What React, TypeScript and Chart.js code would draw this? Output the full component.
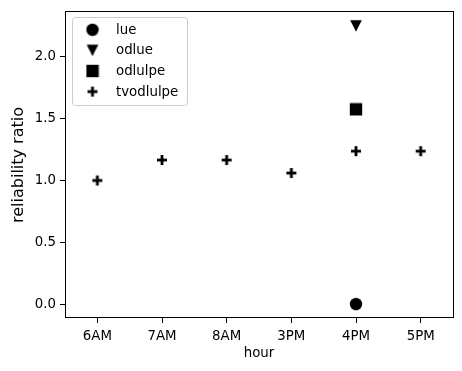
import React, { useEffect, useRef } from "react";
import { Chart, registerables } from "chart.js";

Chart.register(...registerables);

const categories = ["6AM", "7AM", "8AM", "3PM", "4PM", "5PM"];
const lueValues = [null, null, null, null, 0.0, null];
const odlueValues = [null, null, null, null, 2.25, null];
const odlulpeValues = [null, null, null, null, 1.575, null];
const tvodlulpeValues = [1.0, 1.165, 1.165, 1.06, 1.237, 1.237];
const yTicks = [0, 0.5, 1.0, 1.5, 2.0];
const seriesNames = ["lue", "odlue", "odlulpe", "tvodlulpe"];

const FONT = "'DejaVu Sans', sans-serif";

function makeMarker(kind: string): HTMLCanvasElement {
  const c = document.createElement("canvas");
  const s = 14;
  c.width = s;
  c.height = s;
  const ctx = c.getContext("2d")!;
  ctx.fillStyle = "#000";
  if (kind === "circle") {
    ctx.beginPath();
    ctx.arc(7, 7, 6.2, 0, Math.PI * 2);
    ctx.fill();
  } else if (kind === "tri") {
    ctx.beginPath();
    ctx.moveTo(1.2, 1.2);
    ctx.lineTo(12.8, 1.2);
    ctx.lineTo(7, 12.8);
    ctx.closePath();
    ctx.fill();
  } else if (kind === "square") {
    ctx.fillRect(0.8, 0.8, 12.4, 12.4);
  } else {
    ctx.fillRect(2, 5.6, 10, 2.8);
    ctx.fillRect(5.6, 2, 2.8, 10);
  }
  return c;
}

export default function App() {
  const ref = useRef<HTMLCanvasElement>(null);
  useEffect(() => {
    const markers = [makeMarker("circle"), makeMarker("tri"), makeMarker("square"), makeMarker("plus")];
    const values = [lueValues, odlueValues, odlulpeValues, tvodlulpeValues];

    const framePlugin = {
      id: "frameLegend",
      afterDraw(chart: any) {
        const { ctx, chartArea } = chart;
        ctx.save();
        ctx.strokeStyle = "#000";
        ctx.lineWidth = 1;
        ctx.strokeRect(
          Math.round(chartArea.left) + 0.5,
          Math.round(chartArea.top) - 0.5,
          Math.round(chartArea.right - chartArea.left),
          Math.round(chartArea.bottom - chartArea.top)
        );
        // legend
        const bx = 72.5, by = 17.5, bw = 115, bh = 88, r = 3;
        ctx.beginPath();
        ctx.moveTo(bx + r, by);
        ctx.lineTo(bx + bw - r, by);
        ctx.arcTo(bx + bw, by, bx + bw, by + r, r);
        ctx.lineTo(bx + bw, by + bh - r);
        ctx.arcTo(bx + bw, by + bh, bx + bw - r, by + bh, r);
        ctx.lineTo(bx + r, by + bh);
        ctx.arcTo(bx, by + bh, bx, by + bh - r, r);
        ctx.lineTo(bx, by + r);
        ctx.arcTo(bx, by, bx + r, by, r);
        ctx.closePath();
        ctx.fillStyle = "rgba(255,255,255,0.8)";
        ctx.fill();
        ctx.strokeStyle = "#cccccc";
        ctx.stroke();
        ctx.font = `13.33px ${FONT}`;
        ctx.fillStyle = "#000";
        ctx.textAlign = "left";
        ctx.textBaseline = "middle";
        const rows = [29.8, 50.4, 71.0, 91.6];
        seriesNames.forEach((name, i) => {
          const m = markers[i];
          ctx.drawImage(m, 92.5 - m.width / 2, rows[i] - m.height / 2);
          ctx.fillText(name, 116, rows[i] + 0.5);
        });
        ctx.restore();
      },
    };

    const chart = new Chart(ref.current!, {
      type: "line",
      data: {
        labels: categories,
        datasets: values.map((v, i) => ({
          label: seriesNames[i],
          data: v as any,
          showLine: false,
          pointStyle: markers[i] as any,
          pointRadius: 7,
          pointHoverRadius: 7,
          borderColor: "#000",
          backgroundColor: "#000",
        })),
      },
      options: {
        animation: false,
        responsive: false,
        events: [],
        layout: { padding: { left: 0, top: 11, right: 9, bottom: 0 } },
        plugins: { legend: { display: false }, tooltip: { enabled: false } },
        scales: {
          x: {
            type: "category",
            offset: true,
            grid: {
              display: true,
              drawOnChartArea: false,
              drawTicks: true,
              tickLength: 5,
              tickColor: "#000",
              offset: false,
            },
            border: { display: false },
            ticks: {
              color: "#000",
              font: { family: FONT, size: 13.33 },
              padding: 6,
              maxRotation: 0,
              autoSkip: false,
            },
            title: {
              display: true,
              text: "hour",
              color: "#000",
              font: { family: FONT, size: 13.33 },
              padding: { top: 0, bottom: 9 },
            },
            afterFit(scale: any) {
              scale.height = 53;
            },
          },
          y: {
            type: "linear",
            min: -0.1125,
            max: 2.3625,
            afterBuildTicks(scale: any) {
              scale.ticks = yTicks.map((v) => ({ value: v }));
            },
            grid: {
              display: true,
              drawOnChartArea: false,
              drawTicks: true,
              tickLength: 5,
              tickColor: "#000",
            },
            border: { display: false },
            ticks: {
              color: "#000",
              font: { family: FONT, size: 13.33 },
              padding: 4,
              callback: (v: any) => Number(v).toFixed(1),
            },
            title: {
              display: true,
              text: "reliability ratio",
              color: "#000",
              font: { family: FONT, size: 16 },
              padding: { top: 9, bottom: 0 },
            },
            afterFit(scale: any) {
              scale.width = 65;
            },
          },
        },
      },
      plugins: [framePlugin],
    });
    return () => chart.destroy();
  }, []);
  return (
    <div style={{ position: "absolute", left: 0, top: 0, width: 462, height: 371 }}>
      <canvas ref={ref} width={462} height={371} style={{ width: 462, height: 371 }} />
    </div>
  );
}
